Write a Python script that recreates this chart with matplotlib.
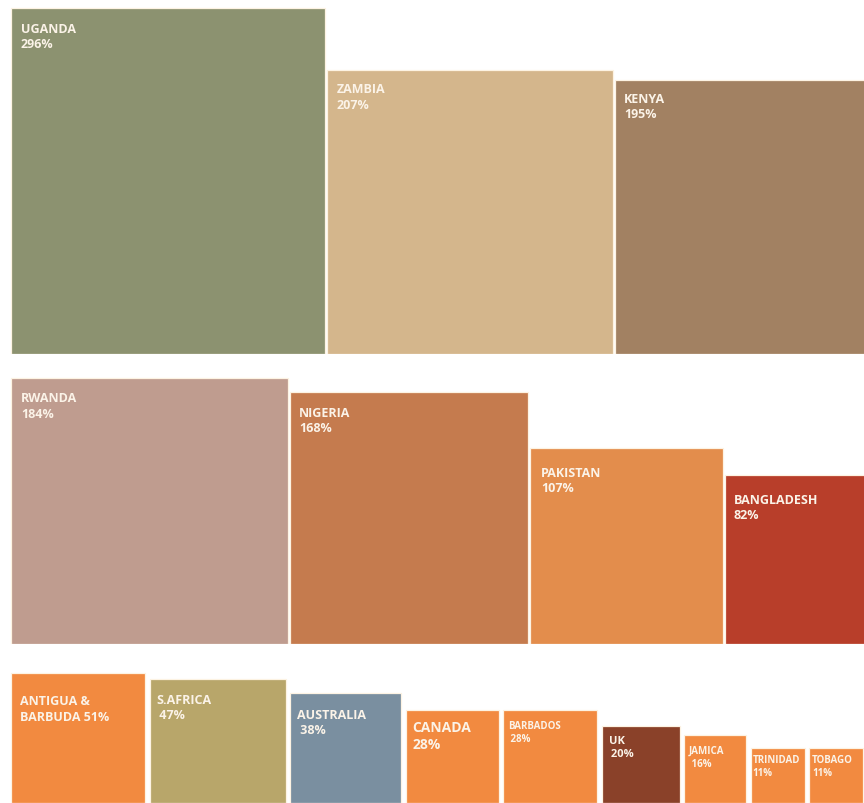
import numpy as np
import matplotlib.pyplot as plt

plt.rcParams['font.family'] = ['Open Sans', 'DejaVu Sans']

# growth figures, one list per row of blocks
row1_names = ['UGANDA', 'ZAMBIA', 'KENYA']
row1_values = [296, 207, 195]
row1_colors = ['#8C9270', '#D4B68C', '#A28162']

row2_names = ['RWANDA', 'NIGERIA', 'PAKISTAN', 'BANGLADESH']
row2_values = [184, 168, 107, 82]
row2_colors = ['#BF9C8F', '#C57B4E', '#E38D4C', '#B83E2A']

row3_names = ['ANTIGUA &\nBARBUDA', 'S.AFRICA', 'AUSTRALIA', 'CANADA', 'BARBADOS',
              'UK', 'JAMICA', 'TRINIDAD', 'TOBAGO']
row3_values = [51, 47, 38, 28, 28, 20, 16, 11, 11]
row3_colors = ['#F28A40', '#B8A66A', '#7A8FA0', '#F28A40', '#F28A40',
               '#8A4129', '#F28A40', '#F28A40', '#F28A40']

# layout (pixels): block widths, gap, baseline, label offsets and sizes
row1_widths = [314, 286, 260]
row2_widths = [277, 238, 193, 150]
row3_widths = [134, 136, 111, 93, 94, 78, 62, 54, 54]

row1_offsets = [(10, 14), (10, 12), (9, 12)]
row2_offsets = [(10, 13), (9, 14), (11, 18), (9, 18)]
row3_offsets = [(9, 21), (7, 14), (7, 15), (7, 10), (5, 10), (7, 9), (5, 10), (2, 6), (3, 6)]

row1_sizes = [9, 9, 9]
row2_sizes = [9, 9, 9, 9]
row3_sizes = [9, 9, 9, 10, 7, 8, 7, 7, 7]

# how the value is joined to the name
row3_joins = [' ', '\n ', '\n ', '\n', '\n ', '\n ', '\n ', '\n', '\n']

W, H = 864, 804
X0 = 11
P = 0.558   # block height grows as value ** P
C = 14.47   # pixels per unit of value ** P
EDGE = '#FDF3E3'
TEXT = '#FBF3E8'


def fwd(v):
    return np.power(np.clip(v, 0, None), P)


def inv(u):
    return np.power(np.clip(u, 0, None), 1 / P)


rows = [
    (row1_names, row1_values, row1_colors, row1_widths, 2, 355, row1_offsets, row1_sizes, ['\n'] * 3),
    (row2_names, row2_values, row2_colors, row2_widths, 2, 645, row2_offsets, row2_sizes, ['\n'] * 4),
    (row3_names, row3_values, row3_colors, row3_widths, 4.5, 804, row3_offsets, row3_sizes, row3_joins),
]

fig = plt.figure(figsize=(W / 100, H / 100), dpi=100)
fig.patch.set_facecolor('white')

for names, values, colors, widths, gap, base, offsets, sizes, joins in rows:
    ax = fig.add_axes([0, (H - base) / H, 1, base / H])
    ax.set_xlim(0, W)
    ax.set_yscale('function', functions=(fwd, inv))
    ax.set_ylim(0, inv(base / C))
    ax.axis('off')

    widths = np.array(widths, dtype=float)
    lefts = X0 + np.concatenate([[0], np.cumsum(widths[:-1] + gap)])
    ax.bar(lefts, values, width=widths, align='edge', color=colors,
           edgecolor=EDGE, linewidth=0.9)

    for name, v, left, (dx, dy), fs, join in zip(names, values, lefts, offsets, sizes, joins):
        ax.annotate(f'{name}{join}{v}%', xy=(left, v), xytext=(dx, -dy),
                    textcoords='offset pixels', ha='left', va='top',
                    fontsize=fs, color=TEXT, fontweight='bold',
                    linespacing=1.25)

fig.savefig('out.png', dpi=100, facecolor='white')
